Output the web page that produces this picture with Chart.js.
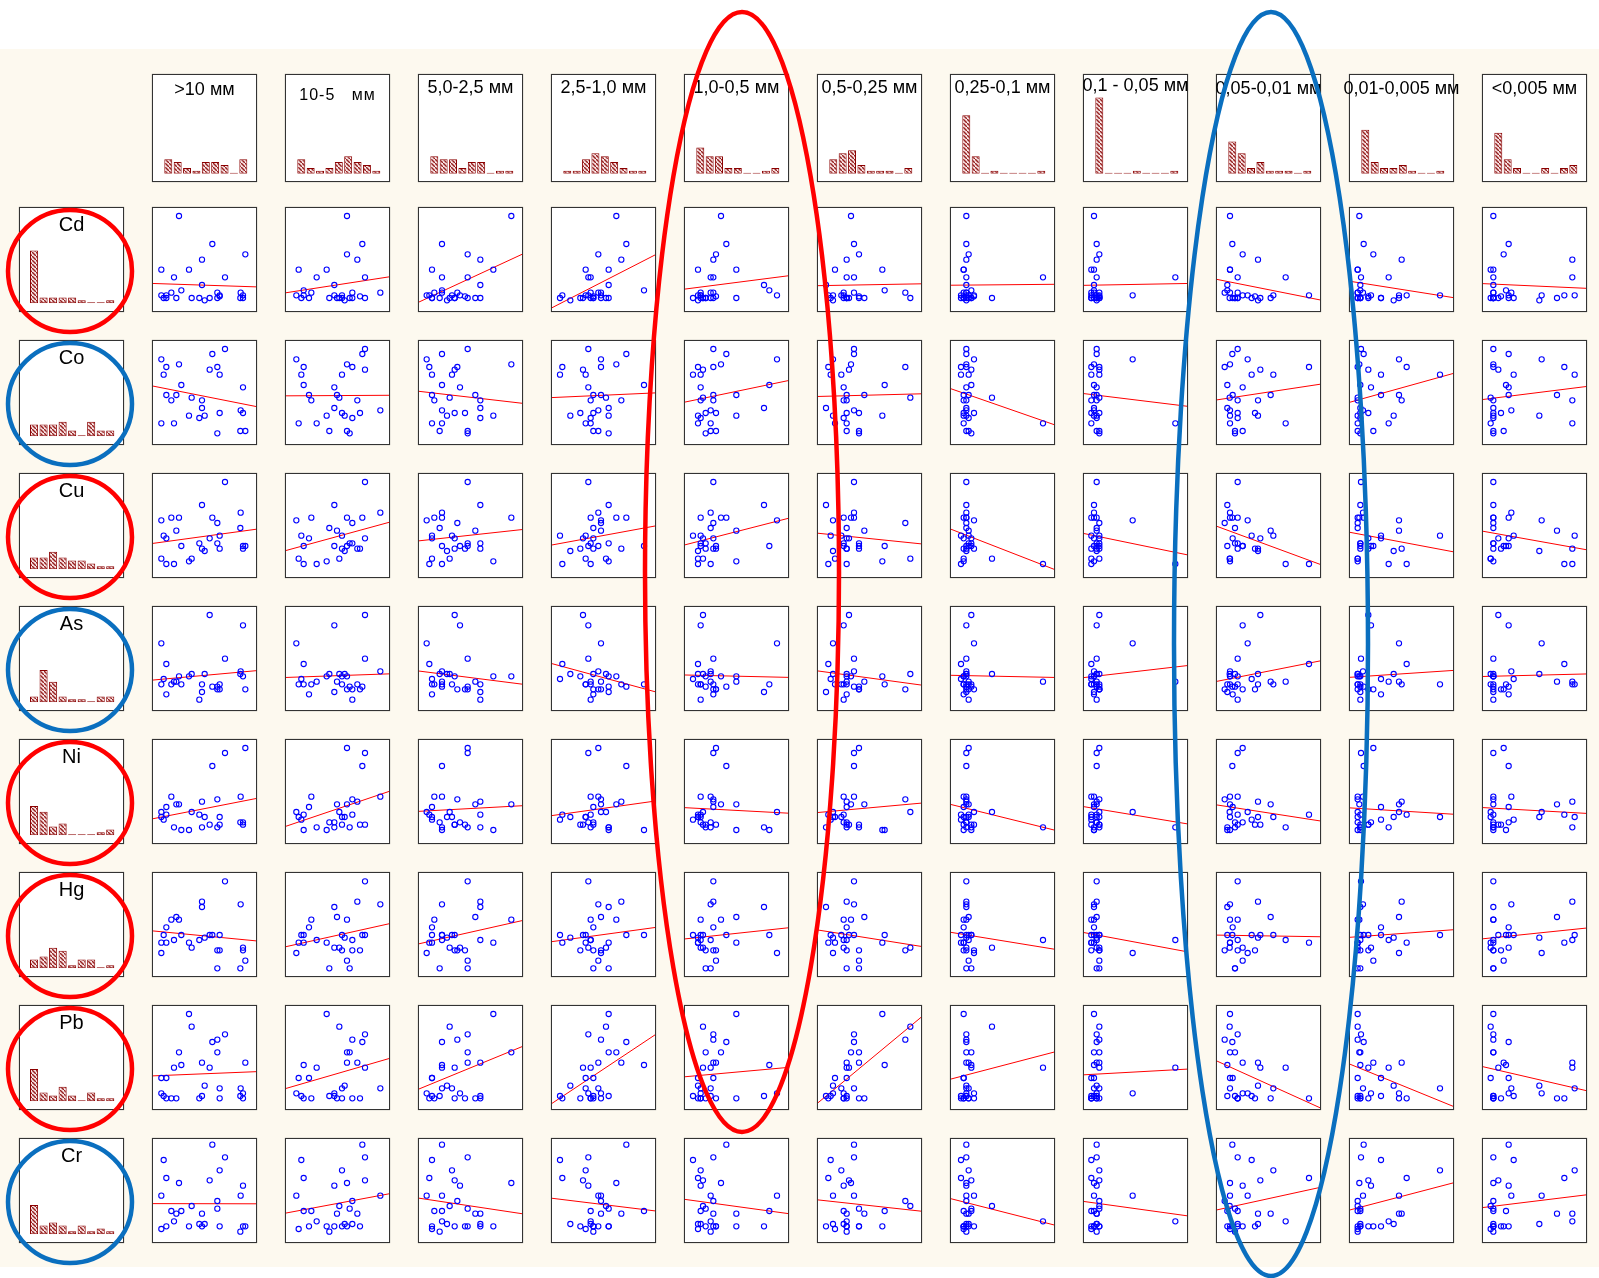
<!DOCTYPE html>
<html>
<head>
<meta charset="utf-8">
<script src="https://cdn.jsdelivr.net/npm/chart.js@4.4.0/dist/chart.umd.min.js"></script>
<style>
  body { margin: 0; width: 1599px; height: 1278px; background: #fff; position: relative; overflow: hidden;
         font-family: "Liberation Sans", Arial, sans-serif; }
  #bg { position: absolute; left: 0; top: 49px; width: 1599px; height: 1218px; background: #fdf9ef; }
  .cell { position: absolute; box-sizing: border-box; border: 1px solid #333; background: #fff;
          box-shadow: 0 0 1px #888; }
  .cell canvas { position: absolute; left: 0; top: 0; }
  .lbl { position: absolute; left: -30px; right: -30px; text-align: center; white-space: pre; color: #000; }
  #marks { position: absolute; left: 0; top: 0; pointer-events: none; }
</style>
</head>
<body>
<div id="bg"></div>
<div id="grid"></div>
<svg id="marks" width="1599" height="1278"></svg>
<script>
// grain-size fractions (columns) and elements (rows)
const colLabels = ['>10 мм', '10-5   мм', '5,0-2,5 мм', '2,5-1,0 мм', '1,0-0,5 мм', '0,5-0,25 мм',
                   '0,25-0,1 мм', '0,1 - 0,05 мм', '0,05-0,01 мм', '0,01-0,005 мм', '<0,005 мм'];
const rowLabels = ['Cd', 'Co', 'Cu', 'As', 'Ni', 'Hg', 'Pb', 'Cr'];

// relative values per sample (28 samples), scale 0..315
const fr10      = [28,43,35,81,181,219,173,196,203,88,273,43,58,73,119,150,150,266,273,111,142,158,203,28,66,196,265,280];
const fr10_5    = [34,56,49,186,232,240,240,202,171,56,148,72,79,156,163,217,148,286,171,125,202,179,225,41,95,194,133,186];
const fr5_25    = [26,34,42,280,72,149,110,118,102,72,126,42,49,172,95,187,187,72,110,226,187,87,141,42,72,149,65,149];
const fr25_10   = [150,34,27,196,226,112,96,150,104,279,112,127,119,150,165,211,173,142,88,173,119,58,127,104,119,173,127,142];
const fr10_05   = [279,42,27,111,127,88,57,88,50,256,50,88,50,157,57,88,240,80,65,157,50,42,96,42,80,65,80,96];
const fr05_025  = [48,34,41,102,111,111,96,265,73,203,80,89,80,142,280,89,27,111,89,196,80,48,126,54,89,126,89,126];
const fr025_01  = [72,33,33,49,49,49,64,49,56,64,49,41,41,56,126,49,49,49,41,41,56,49,72,41,279,64,49,56];
const fr01_005  = [149,25,25,33,41,41,49,49,49,33,41,33,25,41,49,41,33,33,25,33,41,41,49,25,277,49,41,49];
const fr005_001 = [95,279,107,42,49,65,133,26,172,34,80,50,65,164,41,126,34,42,65,42,65,126,117,42,209,57,57,80];
const fr001_0005= [150,173,96,31,44,36,58,26,273,34,66,96,26,150,26,158,34,42,34,26,34,134,58,26,119,34,26,73];
const frLt0005  = [179,247,95,34,80,34,49,34,278,72,80,80,34,225,26,271,34,88,34,34,34,172,57,26,271,34,34,65];

const elCd = [50,50,42,288,204,104,42,58,50,65,50,42,58,42,42,157,81,58,42,127,42,35,47,127,104,42,42,173];
const elCo = [257,234,211,242,273,288,226,234,211,180,173,150,134,150,142,134,111,104,96,88,81,88,96,65,65,35,42,42];
const elCu = [173,42,127,181,181,288,119,165,127,96,96,119,181,142,58,88,219,196,88,50,104,81,88,58,42,104,150,96];
const elAs = [203,141,96,104,73,157,288,65,80,80,257,50,80,88,111,80,57,119,104,104,34,111,65,80,88,73,111,65];
const elNi = [96,88,73,119,234,273,58,134,81,42,65,111,142,119,96,127,50,142,58,42,88,81,58,81,50,50,65,288];
const elHg = [72,103,126,172,126,287,126,80,126,126,88,149,172,180,88,226,210,218,80,103,111,118,80,103,111,26,26,49];
const elPb = [50,35,42,173,204,227,127,211,65,135,50,96,35,35,250,142,42,65,35,288,35,73,35,96,127,173,42,142];
const elCr = [142,195,249,180,295,257,188,126,218,96,172,50,96,88,111,88,50,142,50,50,57,57,50,42,65,103,34,50];

// histogram counts (9 bins) read from the small diagonals
const hFr10      = [5,4,2,1,4,4,3,0,5];
const hFr10_5    = [5,2,1,2,4,6,4,3,1];
const hFr5_25    = [6,5,5,2,4,4,0,1,1];
const hFr25_10   = [1,1,5,7,6,4,2,1,1];
const hFr10_05   = [9,6,6,2,2,0,0,1,2];
const hFr05_025  = [5,7,8,3,1,1,1,0,2];
const hFr025_01  = [20,6,0,1,0,0,0,0,1];
const hFr01_005  = [26,0,0,0,1,0,0,0,1];
const hFr005_001 = [11,7,2,4,1,1,1,0,1];
const hFr001_0005= [15,4,2,2,3,1,0,0,1];
const hFrLt0005  = [14,5,2,0,0,2,0,2,3];

const hCd = [18,2,2,2,2,1,0,0,1];
const hCo = [4,4,4,5,2,0,5,2,2];
const hCu = [4,4,6,4,3,3,2,1,1];
const hAs = [2,11,7,2,1,1,0,2,2];
const hNi = [10,8,3,4,0,0,0,1,2];
const hHg = [3,4,7,6,1,3,3,0,1];
const hPb = [11,3,2,5,2,0,3,1,1];
const hCr = [10,3,4,3,1,3,1,2,1];

const fractions = [fr10, fr10_5, fr5_25, fr25_10, fr10_05, fr05_025, fr025_01, fr01_005, fr005_001, fr001_0005, frLt0005];
const fracHists = [hFr10, hFr10_5, hFr5_25, hFr25_10, hFr10_05, hFr05_025, hFr025_01, hFr01_005, hFr005_001, hFr001_0005, hFrLt0005];
const elements = [elCd, elCo, elCu, elAs, elNi, elHg, elPb, elCr];
const elemHists = [hCd, hCo, hCu, hAs, hNi, hHg, hPb, hCr];

// layout
const COL0 = 152, ROW0 = 207, STEP = 133, BOX = 105;
const HEAD_TOP = 74, HEAD_H = 108, LAB_LEFT = 19;
const headBase = [95.5, 100, 93, 93, 93, 93, 93, 91.5, 94.5, 94.5, 94.5];
const LO = 3, HI = 312;

const grid = document.getElementById('grid');

function makeCell(left, top, w, h) {
  const d = document.createElement('div');
  d.className = 'cell';
  Object.assign(d.style, { left: left + 'px', top: top + 'px', width: w + 'px', height: h + 'px' });
  const c = document.createElement('canvas');
  c.width = w - 2; c.height = h - 2;
  c.style.width = (w - 2) + 'px'; c.style.height = (h - 2) + 'px';
  d.appendChild(c);
  grid.appendChild(d);
  return { d, c };
}

function addLabel(cell, text, top, size, spacing) {
  const l = document.createElement('div');
  l.className = 'lbl';
  l.textContent = text;
  Object.assign(l.style, { top: top + 'px', fontSize: size + 'px', lineHeight: size + 'px' });
  if (spacing) l.style.letterSpacing = spacing + 'px';
  cell.d.appendChild(l);
}

// hatch fill for histogram bars
const pc = document.createElement('canvas');
pc.width = 4; pc.height = 4;
const px = pc.getContext('2d');
px.fillStyle = '#f7e2e2'; px.fillRect(0, 0, 4, 4);
px.strokeStyle = '#962020'; px.lineWidth = 1.4;
px.beginPath(); px.moveTo(-1, -1); px.lineTo(5, 5); px.stroke();
const hatch = px.createPattern(pc, 'repeat');

const baseOpts = {
  animation: false, responsive: false, devicePixelRatio: 1, events: [],
  plugins: { legend: { display: false }, tooltip: { enabled: false } }
};

function histChart(canvas, counts, pad) {
  new Chart(canvas, {
    type: 'bar',
    data: {
      labels: counts.map((_, i) => i),
      datasets: [{
        data: counts, backgroundColor: hatch, borderColor: '#8b0000', borderWidth: 1,
        borderSkipped: false, barPercentage: 0.85, categoryPercentage: 1, minBarLength: 1
      }]
    },
    options: {
      ...baseOpts,
      layout: { padding: pad, autoPadding: false },
      scales: { x: { display: false }, y: { display: false, min: 0, max: 30 } }
    }
  });
}

function fitLine(xs, ys) {
  const n = xs.length;
  const mx = xs.reduce((a, b) => a + b, 0) / n;
  const my = ys.reduce((a, b) => a + b, 0) / n;
  let sxy = 0, sxx = 0;
  for (let i = 0; i < n; i++) { sxy += (xs[i] - mx) * (ys[i] - my); sxx += (xs[i] - mx) ** 2; }
  const b = sxy / sxx, a = my - b * mx;
  return x => a + b * x;
}

function scatterChart(canvas, xs, ys) {
  const f = fitLine(xs, ys);
  new Chart(canvas, {
    type: 'scatter',
    data: {
      datasets: [
        {
          data: xs.map((x, i) => ({ x, y: ys[i] })),
          pointRadius: 2.6, pointBorderWidth: 1.1, pointBorderColor: '#0000ff',
          pointBackgroundColor: 'rgba(0,0,0,0)'
        },
        {
          type: 'line', data: [{ x: LO, y: f(LO) }, { x: HI, y: f(HI) }],
          borderColor: '#ff0000', borderWidth: 1, pointRadius: 0, clip: 0
        }
      ]
    },
    options: {
      ...baseOpts,
      layout: { padding: 0, autoPadding: false },
      scales: {
        x: { type: 'linear', display: false, min: LO, max: HI },
        y: { type: 'linear', display: false, min: LO, max: HI }
      }
    }
  });
}

// header row: fraction names + histograms
colLabels.forEach((name, j) => {
  const cell = makeCell(COL0 + STEP * j, HEAD_TOP, BOX, HEAD_H);
  histChart(cell.c, fracHists[j], { left: 10.6, right: 8, top: 10.8, bottom: 7.2 });
  if (j === 1) addLabel(cell, name, headBase[j] - 13.5 - HEAD_TOP - 1, 16, 1);
  else addLabel(cell, name, headBase[j] - 15.2 - HEAD_TOP - 1, 18);
});

// element rows
rowLabels.forEach((name, r) => {
  const top = ROW0 + STEP * r;
  const lab = makeCell(LAB_LEFT, top, BOX, BOX);
  histChart(lab.c, elemHists[r], { left: 9.3, right: 8, top: 7.3, bottom: 7.7 });
  addLabel(lab, name, 5.8, 20);
  fractions.forEach((xs, j) => {
    const cell = makeCell(COL0 + STEP * j, top, BOX, BOX);
    scatterChart(cell.c, xs, elements[r]);
  });
});

// hand-drawn highlight ellipses
const svg = document.getElementById('marks');
const RED = '#ff0000', BLUE = '#0a6fbf';
const ringColors = [RED, BLUE, RED, BLUE, RED, RED, RED, BLUE];
function ellipse(cx, cy, rx, ry, color) {
  const e = document.createElementNS('http://www.w3.org/2000/svg', 'ellipse');
  e.setAttribute('cx', cx); e.setAttribute('cy', cy);
  e.setAttribute('rx', rx); e.setAttribute('ry', ry);
  e.setAttribute('fill', 'none'); e.setAttribute('stroke', color); e.setAttribute('stroke-width', 4.5);
  svg.appendChild(e);
}
ringColors.forEach((c, r) => ellipse(70, 271 + STEP * r, 62, 61, c));
ellipse(742, 572, 97, 560, RED);
ellipse(1271, 644, 97, 632, BLUE);
</script>
</body>
</html>
